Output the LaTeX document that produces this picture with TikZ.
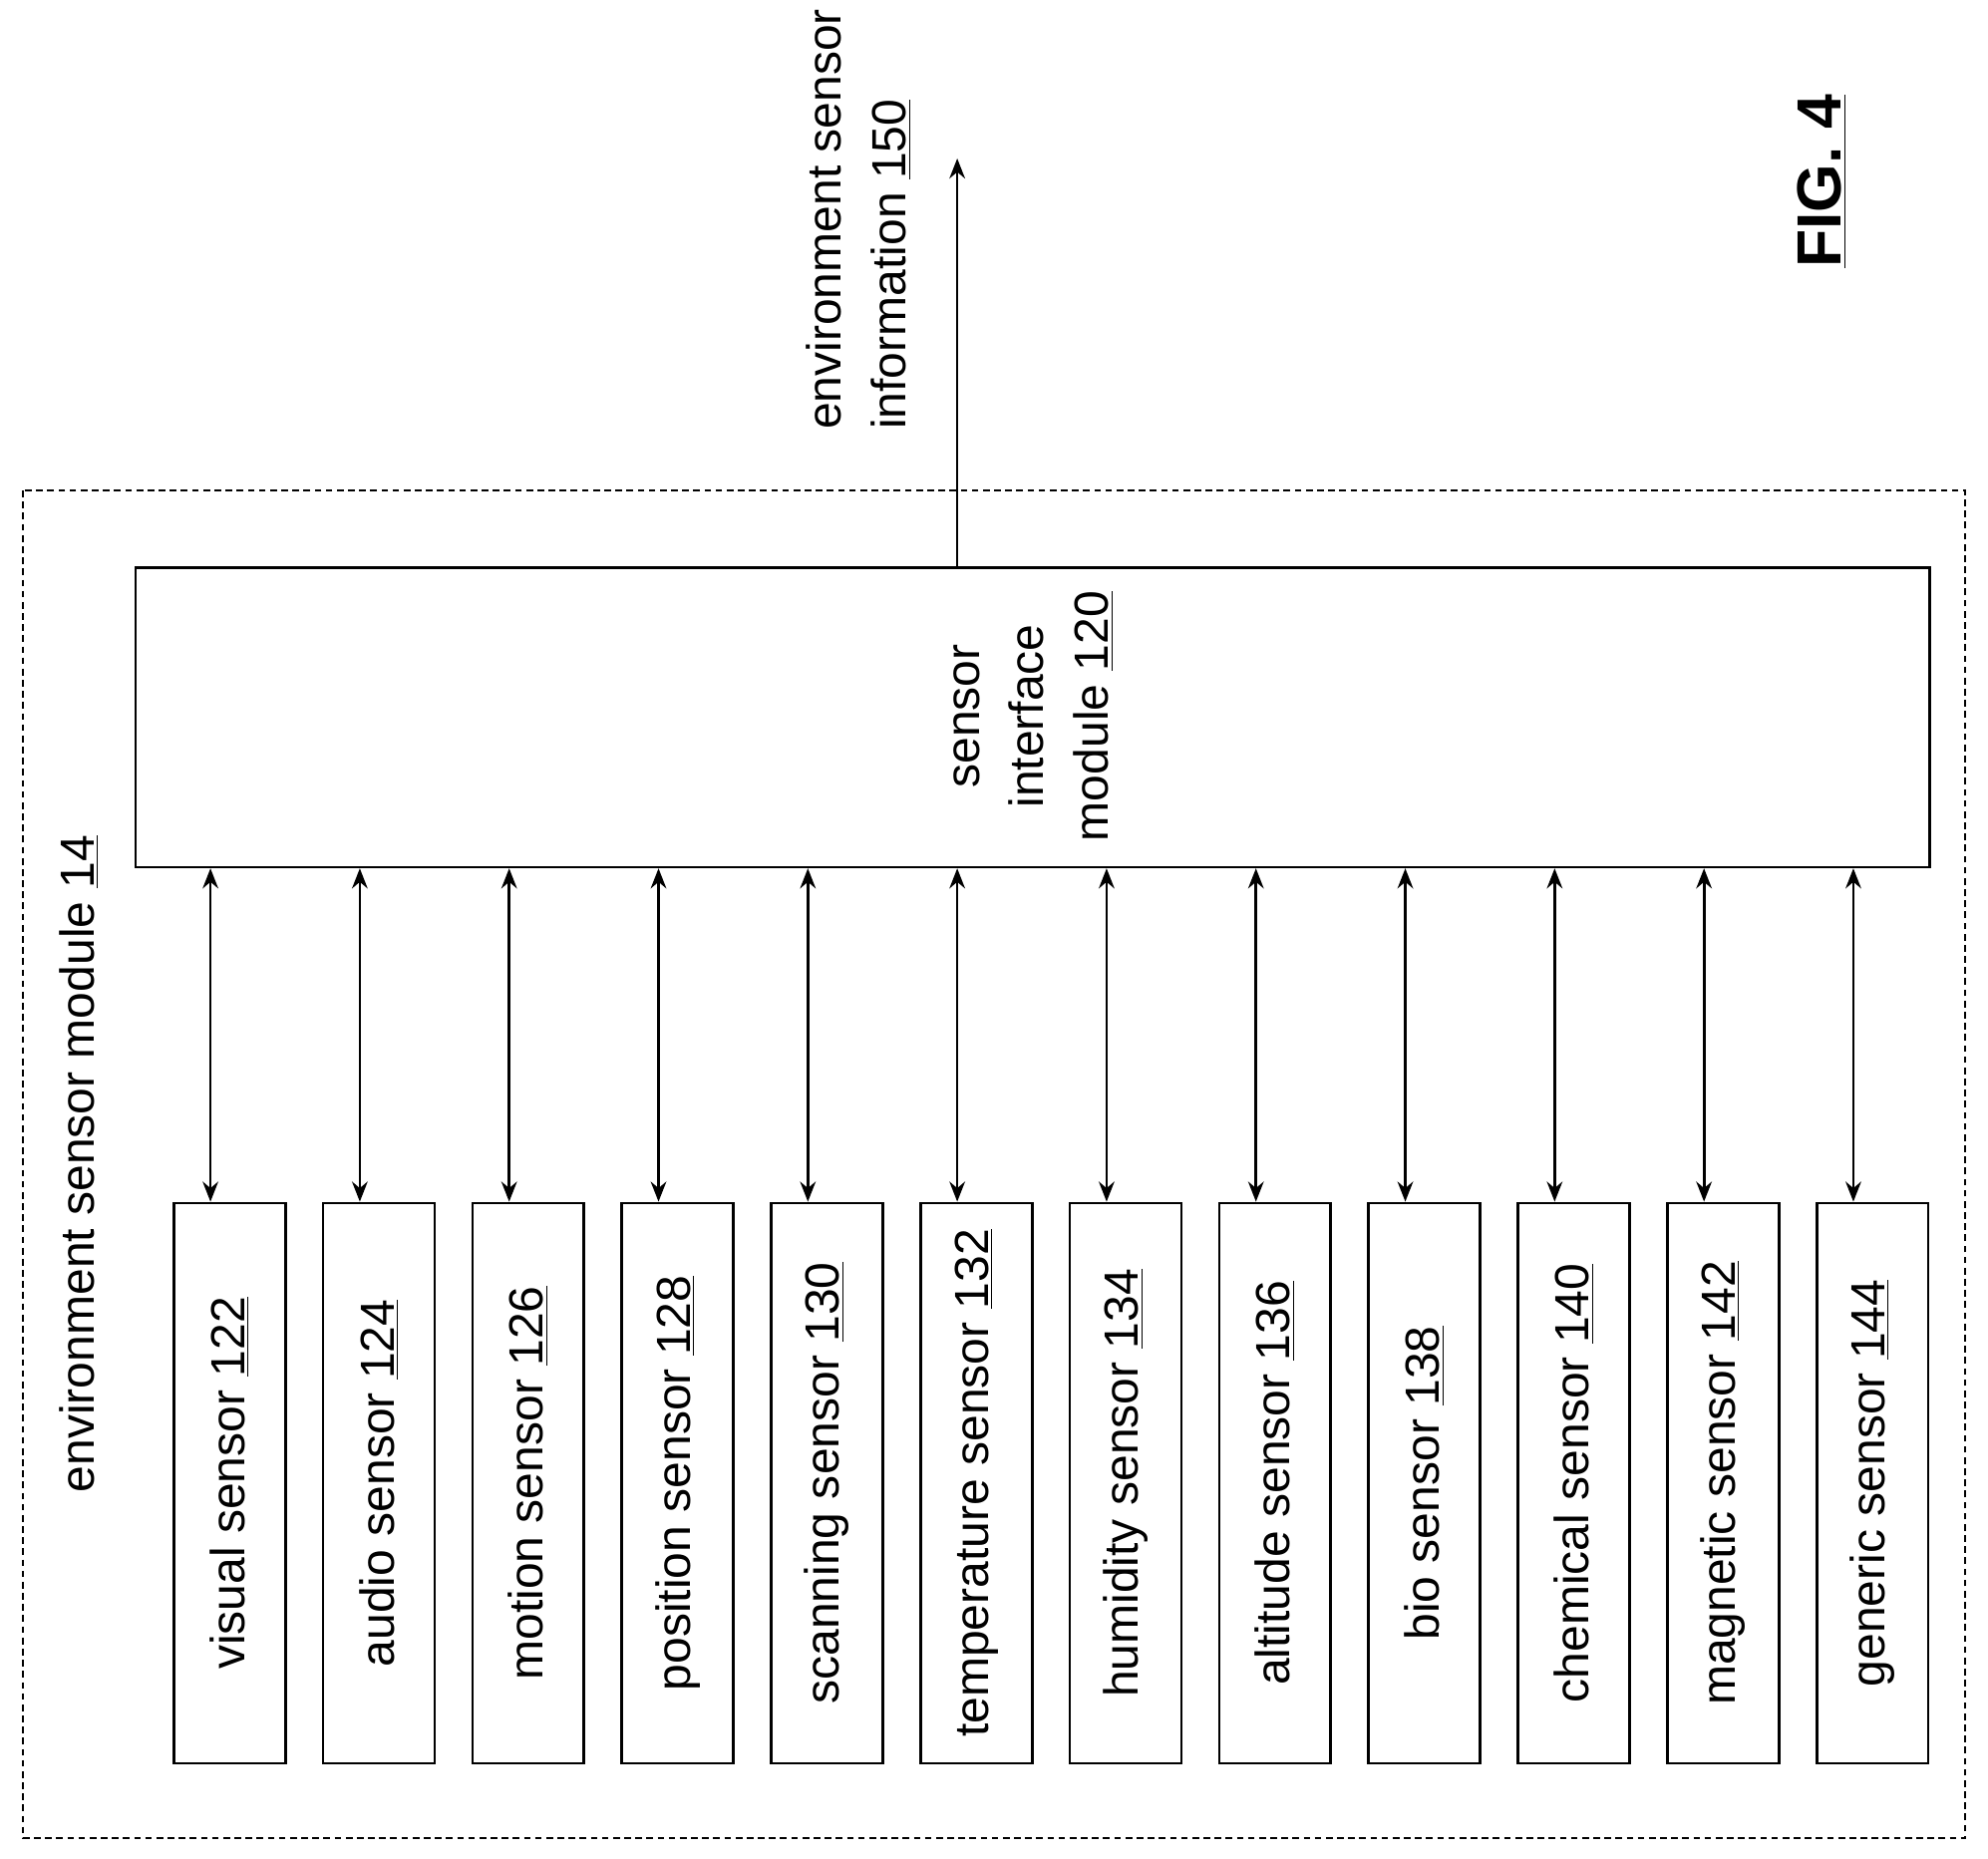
\documentclass[tikz,border=0pt]{standalone}
\usepackage{fontspec}
\setmainfont{Liberation Sans}
\usetikzlibrary{arrows.meta}
\tikzset{
  sensorbox/.style={draw,line width=1.2pt,minimum width=1.76cm,minimum height=8.84cm,anchor=north west,inner sep=0pt},
  lbl/.style={rotate=90,font=\fontsize{21.5}{29}\selectfont,align=center},
  link/.style={line width=1.2pt,{Stealth[length=9pt,width=7pt]}-{Stealth[length=9pt,width=7pt]}}
}
\newcommand{\num}[1]{\underline{#1}}
\begin{document}
\begin{tikzpicture}[x=0.02cm,y=-0.02cm]
  \useasboundingbox (0,0) rectangle (1568,1466);
  % outer module
  \draw[dashed,line width=1pt,dash pattern=on 3pt off 2pt] (18,387) rectangle (1550,1450);
  \node[lbl] (envmod) at (62,918) {environment sensor module \num{14}};
  % interface module
  \node[draw,line width=1.2pt,minimum width=28.3cm,minimum height=4.72cm,anchor=north west,inner sep=0pt] (iface) at (106,447) {};
  \node[lbl] at (815,565) {sensor\\interface\\module \num{120}};
  \coordinate (out) at (755,125);
  \draw[line width=1.2pt,-{Stealth[length=9pt,width=7pt]}] (iface.north -| out) -- (out);
  \node[lbl,align=left,anchor=north west] (info) at (630,345) {environment sensor\\information \num{150}};
  \node[rotate=90,font=\bfseries\fontsize{28}{32}\selectfont] (fig) at (1437,143) {\underline{FIG. 4}};
  % sensors
  \foreach \name [count=\i from 0] in {visual sensor \num{122},audio sensor \num{124},motion sensor \num{126},position sensor \num{128},scanning sensor \num{130},temperature sensor \num{132},humidity sensor \num{134},altitude sensor \num{136},bio sensor \num{138},chemical sensor \num{140},magnetic sensor \num{142},generic sensor \num{144}}{
    \node[sensorbox] (s\i) at (136+117.8*\i,948) {};
    \node[lbl] at (s\i.center) {\name};
    \coordinate (a\i) at (166+117.8*\i,948);
    \draw[link] (a\i) -- (a\i |- iface.south);
  }
\end{tikzpicture}
\end{document}
